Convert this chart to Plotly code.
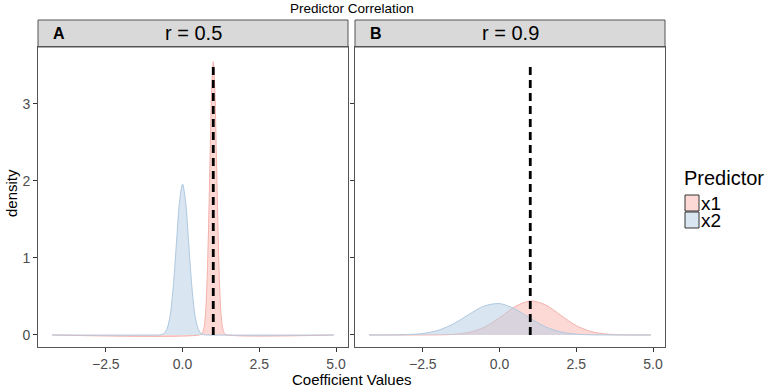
import plotly.graph_objects as go

# ---- data ----
panels = ["A", "B"]
panel_titles = ["r = 0.5", "r = 0.9"]
predictors = ["x1", "x2"]

# Panel A (r = 0.5)
a_x1_x = [-4.25, 0.6, 0.65, 0.7, 0.75, 0.8, 0.85, 0.9, 0.95, 1.0, 1.05, 1.1, 1.15, 1.2, 1.25, 1.3, 1.35, 1.4, 4.93]
a_x1_y = [0.0, 0.006, 0.03, 0.10, 0.29, 0.72, 1.45, 2.38, 3.21, 3.55, 3.21, 2.38, 1.45, 0.72, 0.29, 0.10, 0.03, 0.006, 0.0]
a_x2_x = [-4.25, -0.8, -0.7, -0.6, -0.5, -0.4, -0.3, -0.2, -0.1, 0.0, 0.1, 0.2, 0.3, 0.4, 0.5, 0.6, 0.7, 0.8, 4.93]
a_x2_y = [0.0, 0.0, 0.002, 0.022, 0.086, 0.265, 0.64, 1.19, 1.73, 1.96, 1.73, 1.19, 0.64, 0.265, 0.086, 0.022, 0.002, 0.0, 0.0]

# Panel B (r = 0.9)
b_x = [-4.25, -3.5, -3.0, -2.5, -2.0, -1.5, -1.0, -0.5, 0.0, 0.5, 1.0, 1.5, 2.0, 2.5, 3.0, 3.5, 4.0, 4.93]
b_x1_y = [0.0, 0.0, 0.0, 0.0002, 0.0014, 0.008, 0.033, 0.10, 0.224, 0.368, 0.442, 0.391, 0.254, 0.121, 0.042, 0.011, 0.002, 0.0]
b_x2_y = [0.0, 0.001, 0.005, 0.019, 0.060, 0.145, 0.267, 0.376, 0.408, 0.339, 0.216, 0.105, 0.039, 0.011, 0.0025, 0.0005, 0.0, 0.0]

true_value = 1.0
true_line_top = 3.5

x_ticks = [-2.5, 0.0, 2.5, 5.0]
x_tick_labels = ["\u22122.5", "0.0", "2.5", "5.0"]
y_ticks = [0, 1, 2, 3]

line_colors = {"x1": "#F4B1AB", "x2": "#AFC8DF"}
fill_colors = {"x1": "rgba(251,180,174,0.5)", "x2": "rgba(179,205,227,0.5)"}

FONT = "Liberation Sans, Arial, Helvetica, sans-serif"

W, H = 772, 387
ML, MR, MT, MB = 38, W - 665, 20, H - 347
PW, PH = W - ML - MR, H - MT - MB


def px_x(px):
    return (px - ML) / PW


def px_y(py):
    return (H - MB - py) / PH


fig = go.Figure()

series = [
    ("x1", "x", "y", a_x1_x, a_x1_y),
    ("x2", "x", "y", a_x2_x, a_x2_y),
    ("x1", "x2", "y2", b_x, b_x1_y),
    ("x2", "x2", "y2", b_x, b_x2_y),
]
for name, xa, ya, xs, ys in series:
    fig.add_trace(go.Scatter(
        x=xs, y=ys, xaxis=xa, yaxis=ya, name=name, showlegend=False, mode="lines",
        line=dict(color=line_colors[name], width=1, shape="spline", smoothing=0.8),
        fill="tozeroy", fillcolor=fill_colors[name], hoverinfo="skip",
    ))

for xa, ya in [("x", "y"), ("x2", "y2")]:
    fig.add_trace(go.Scatter(
        x=[true_value, true_value], y=[0, true_line_top], xaxis=xa, yaxis=ya,
        mode="lines", line=dict(color="black", width=2.8, dash="8px,5px"),
        showlegend=False, hoverinfo="skip",
    ))

x_range = [-4.71, 5.39]
y_range = [-0.156, 3.74]
panel_top = px_y(47)
y_dom = [0.0, panel_top]
doms = [[0.0, px_x(348)], [px_x(355), 1.0]]

xa_common = dict(range=x_range, tickvals=x_ticks, ticktext=x_tick_labels, ticks="outside", ticklen=4,
                 tickcolor="#333333", showgrid=False, zeroline=False, showline=True, mirror=True,
                 linecolor="#555555", linewidth=1, automargin=False,
                 tickfont=dict(size=14, color="#4D4D4D", family=FONT))
ya_common = dict(range=y_range, tickvals=y_ticks, ticks="outside", ticklen=4, tickcolor="#333333",
                 showgrid=False, zeroline=False, showline=True, mirror=True, linecolor="#555555",
                 linewidth=1, domain=y_dom, automargin=False,
                 tickfont=dict(size=14, color="#4D4D4D", family=FONT))

fig.update_layout(
    width=W, height=H, margin=dict(l=ML, r=MR, t=MT, b=MB, autoexpand=False),
    paper_bgcolor="white", plot_bgcolor="white",
    font=dict(family=FONT, color="black"),
    xaxis=dict(domain=doms[0], anchor="y", **xa_common),
    xaxis2=dict(domain=doms[1], anchor="y2", **xa_common),
    yaxis=dict(anchor="x", **ya_common),
    yaxis2=dict(anchor="x2", showticklabels=False, **ya_common),
    showlegend=False,
)

# strips
strip_bottom, strip_top = panel_top, 1.0
for (x0, x1), lab, title in zip(doms, panels, panel_titles):
    fig.add_shape(type="rect", xref="paper", yref="paper", x0=x0, x1=x1, y0=strip_bottom, y1=strip_top,
                  fillcolor="#D9D9D9", line=dict(color="#555555", width=1), layer="below")
    fig.add_annotation(xref="paper", yref="paper", x=x0 + 0.02, y=(strip_bottom + strip_top) / 2,
                       text="<b>" + lab + "</b>", showarrow=False, xanchor="left", yanchor="middle",
                       font=dict(size=16, color="black", family=FONT))
    fig.add_annotation(xref="paper", yref="paper", x=(x0 + x1) / 2, y=(strip_bottom + strip_top) / 2,
                       text=title, showarrow=False, xanchor="center", yanchor="middle",
                       font=dict(size=20, color="black", family=FONT))

# titles
fig.add_annotation(xref="paper", yref="paper", x=0.5, y=px_y(9), text="Predictor Correlation",
                   showarrow=False, xanchor="center", yanchor="middle", font=dict(size=13.5, family=FONT))
fig.add_annotation(xref="paper", yref="paper", x=0.5, y=px_y(379), text="Coefficient Values",
                   showarrow=False, xanchor="center", yanchor="middle", font=dict(size=15, family=FONT))
fig.add_annotation(xref="paper", yref="paper", x=px_x(11), y=px_y(193), text="density",
                   showarrow=False, xanchor="center", yanchor="middle", textangle=-90,
                   font=dict(size=15, family=FONT))

# legend (drawn as keys + labels)
fig.add_annotation(xref="paper", yref="paper", x=px_x(682), y=px_y(178), text="Predictor",
                   showarrow=False, xanchor="left", yanchor="middle", font=dict(size=20, family=FONT))
key_tops = [195, 212]
for name, top in zip(predictors, key_tops):
    fig.add_shape(type="rect", xref="paper", yref="paper", x0=px_x(685), x1=px_x(699),
                  y0=px_y(top + 16), y1=px_y(top), fillcolor=fill_colors[name],
                  line=dict(color="#333333", width=1))
    fig.add_annotation(xref="paper", yref="paper", x=px_x(700), y=px_y(top + 8), text=name,
                       showarrow=False, xanchor="left", yanchor="middle", height=16, borderpad=0,
                       valign="middle", font=dict(size=19, family=FONT))

fig.write_html("out.html", config={"displayModeBar": False},
               post_script="document.body.style.margin='0';document.body.style.overflow='hidden';")
